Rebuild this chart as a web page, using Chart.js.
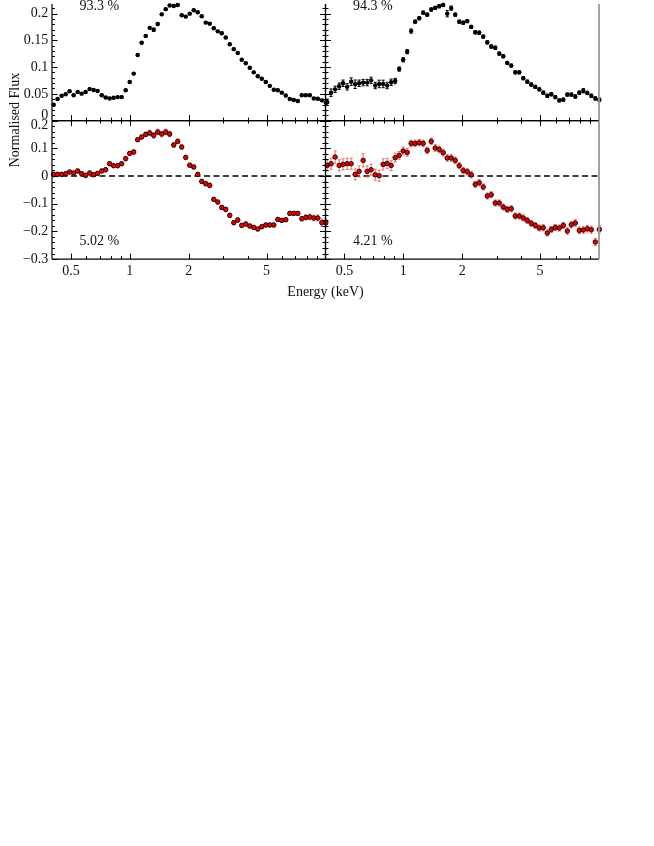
<!DOCTYPE html>
<html><head><meta charset="utf-8">
<script src="https://cdn.jsdelivr.net/npm/chart.js@4.4.1/dist/chart.umd.min.js"></script>
<style>
html,body{margin:0;padding:0;background:#fff;overflow:hidden;width:654px;height:846px}
#wrap{position:relative;width:654px;height:846px}
canvas{position:absolute;left:0;top:0}
</style></head><body>
<div id="wrap">
<canvas id="tl" width="654" height="846"></canvas>
<canvas id="tr" width="654" height="846"></canvas>
<canvas id="bl" width="654" height="846"></canvas>
<canvas id="br" width="654" height="846"></canvas>
</div>
<script>
// ---- data (energy in keV) ----
const energies = [0.408,0.427,0.448,0.470,0.492,0.516,0.541,0.567,0.594,0.623,0.653,0.684,0.718,0.752,0.788,0.826,0.866,0.908,0.952,0.998,1.046,1.096,1.149,1.205,1.263,1.324,1.388,1.455,1.525,1.598,1.676,1.756,1.841,1.930,2.023,2.121,2.223,2.330,2.442,2.560,2.684,2.813,2.949,3.091,3.240,3.397,3.561,3.732,3.912,4.101,4.299,4.506,4.724,4.952,5.190,5.441,5.703,5.978,6.267,6.569,6.886,7.218,7.566,7.931,8.314,8.715,9.135,9.576,10.04];

// top-left: normalised flux (93.3 %)
const fluxLeft = [0.0295,0.0403,0.0463,0.0493,0.0548,0.0475,0.0535,0.0504,0.0535,0.0589,0.0571,0.0553,0.0475,0.0432,0.0414,0.0426,0.0439,0.0439,0.0566,0.0721,0.0878,0.1227,0.1456,0.1583,0.1733,0.1697,0.1805,0.1986,0.2083,0.2152,0.2143,0.2161,0.1968,0.1944,0.1999,0.2062,0.2026,0.1950,0.1831,0.1812,0.1727,0.1668,0.1632,0.1552,0.1426,0.1335,0.1263,0.1137,0.1072,0.0987,0.0902,0.0829,0.0782,0.0721,0.0649,0.0576,0.0566,0.0522,0.0468,0.0403,0.0385,0.0367,0.0475,0.0475,0.0475,0.0414,0.0408,0.0378,0.0336];
const fluxLeftErr = [0.002,0.002,0.002,0.002,0.002,0.002,0.002,0.002,0.002,0.002,0.002,0.002,0.002,0.002,0.002,0.002,0.002,0.002,0.002,0.002,0.002,0.002,0.002,0.002,0.002,0.003,0.002,0.002,0.002,0.002,0.002,0.002,0.002,0.002,0.002,0.002,0.002,0.002,0.002,0.002,0.002,0.002,0.002,0.002,0.002,0.002,0.002,0.002,0.002,0.002,0.002,0.002,0.002,0.002,0.002,0.002,0.002,0.002,0.002,0.002,0.002,0.002,0.002,0.002,0.002,0.002,0.002,0.002,0.002];

// top-right: normalised flux (94.3 %)
const fluxRight = [0.0342,0.0522,0.0584,0.0643,0.0698,0.0631,0.0728,0.0679,0.0698,0.0710,0.0710,0.0752,0.0656,0.0685,0.0685,0.0656,0.0716,0.0739,0.0963,0.1137,0.1288,0.1673,0.1849,0.1914,0.2017,0.1980,0.2076,0.2107,0.2138,0.2161,0.1999,0.2102,0.1980,0.1849,0.1830,0.1859,0.1751,0.1650,0.1643,0.1570,0.1462,0.1384,0.1361,0.1252,0.1203,0.1077,0.1028,0.0902,0.0902,0.0793,0.0728,0.0674,0.0631,0.0584,0.0522,0.0463,0.0493,0.0439,0.0378,0.0390,0.0486,0.0486,0.0450,0.0522,0.0558,0.0517,0.0463,0.0414,0.0390];
const fluxRightErr = [0.006,0.007,0.006,0.006,0.006,0.006,0.007,0.008,0.006,0.006,0.006,0.006,0.006,0.007,0.007,0.006,0.006,0.005,0.004,0.004,0.004,0.004,0.003,0.003,0.003,0.003,0.003,0.003,0.003,0.003,0.006,0.004,0.003,0.003,0.003,0.003,0.003,0.003,0.003,0.003,0.003,0.003,0.003,0.003,0.003,0.003,0.003,0.003,0.003,0.003,0.003,0.003,0.003,0.003,0.003,0.003,0.003,0.003,0.003,0.003,0.003,0.003,0.003,0.003,0.004,0.003,0.003,0.003,0.003];

// bottom-left: second component (5.02 %)
const resLeft = [0.0058,0.0058,0.0058,0.0083,0.0144,0.0108,0.0181,0.0083,0.0022,0.0108,0.0047,0.0094,0.0181,0.0227,0.0444,0.0372,0.0372,0.0444,0.0625,0.0816,0.0866,0.1310,0.1408,0.1502,0.1552,0.1466,0.1588,0.1516,0.1588,0.1516,0.1119,0.1249,0.1047,0.0671,0.0390,0.0325,0.0058,-0.0195,-0.0278,-0.0339,-0.0845,-0.0939,-0.1134,-0.1206,-0.1422,-0.1686,-0.1588,-0.1783,-0.1733,-0.1805,-0.1856,-0.1913,-0.1830,-0.1769,-0.1769,-0.1769,-0.1567,-0.1603,-0.1578,-0.1350,-0.1350,-0.1350,-0.1542,-0.1495,-0.1480,-0.1516,-0.1516,-0.1686,-0.1686];
const resLeftErr = [0.008,0.008,0.007,0.007,0.007,0.007,0.007,0.008,0.008,0.007,0.007,0.007,0.007,0.008,0.007,0.007,0.007,0.007,0.007,0.007,0.008,0.007,0.007,0.008,0.01,0.01,0.01,0.01,0.01,0.01,0.008,0.008,0.007,0.007,0.007,0.007,0.007,0.007,0.008,0.008,0.007,0.007,0.007,0.007,0.007,0.007,0.008,0.007,0.007,0.007,0.007,0.007,0.007,0.007,0.007,0.007,0.007,0.007,0.007,0.007,0.007,0.007,0.008,0.009,0.01,0.01,0.011,0.013,0.013];

// bottom-right: second component (4.21 %)
const resRight = [0.0383,0.0444,0.0686,0.0383,0.0419,0.0444,0.0444,0.0058,0.0166,0.0563,0.0166,0.0227,0.0047,0.0011,0.0419,0.0455,0.0383,0.0661,0.0744,0.0903,0.0852,0.1177,0.1177,0.1202,0.1177,0.0924,0.1249,0.1011,0.0960,0.0841,0.0650,0.0650,0.0563,0.0372,0.0199,0.0155,0.0047,-0.0303,-0.0242,-0.0397,-0.0722,-0.0675,-0.0975,-0.0975,-0.1119,-0.1206,-0.1181,-0.1444,-0.1444,-0.1516,-0.1603,-0.1711,-0.1783,-0.1877,-0.1866,-0.2058,-0.1928,-0.1856,-0.1877,-0.1783,-0.1986,-0.1758,-0.1697,-0.1964,-0.1949,-0.1903,-0.1939,-0.2383,-0.1928];
const resRightErr = [0.02,0.02,0.022,0.02,0.02,0.02,0.02,0.02,0.02,0.024,0.02,0.02,0.02,0.02,0.02,0.018,0.018,0.016,0.014,0.014,0.014,0.012,0.012,0.012,0.012,0.012,0.012,0.012,0.012,0.012,0.012,0.012,0.012,0.012,0.012,0.012,0.012,0.011,0.011,0.011,0.011,0.011,0.011,0.011,0.011,0.011,0.011,0.011,0.011,0.011,0.011,0.011,0.011,0.011,0.011,0.011,0.011,0.011,0.011,0.011,0.012,0.012,0.012,0.012,0.012,0.012,0.013,0.013,0.014];

// ---- ticks & labels ----
const xMajorTicks = [0.5, 1, 2, 5];
const xMajorLabels = ['0.5', '1', '2', '5'];
const xMinorTicks = [0.6, 0.7, 0.8, 0.9, 3, 4, 6, 7, 8, 9];
const topYTicks = [0, 0.05, 0.1, 0.15, 0.2];
const topYLabels = ['0', '0.05', '0.1', '0.15', '0.2'];
const topYMinor = [0.01,0.02,0.03,0.04,0.06,0.07,0.08,0.09,0.11,0.12,0.13,0.14,0.16,0.17,0.18,0.19,0.21];
const botYTicks = [-0.3, -0.2, -0.1, 0, 0.1, 0.2];
const botYLabels = ['\u22120.3', '\u22120.2', '\u22120.1', '0', '0.1', '0.2'];
const botYMinor = [-0.28,-0.26,-0.24,-0.22,-0.18,-0.16,-0.14,-0.12,-0.08,-0.06,-0.04,-0.02,0.02,0.04,0.06,0.08,0.12,0.14,0.16,0.18];
const panelFractions = ['93.3 %', '94.3 %', '5.02 %', '4.21 %'];
const yTitle = 'Normalised Flux';
const xTitle = 'Energy (keV)';

const FONT = '14px "Liberation Serif", "Times New Roman", serif';
const TXT = '#111';
const W = 654, H = 846;
const LEFT_X0 = 52, MID_X = 325.5, RIGHT_X1 = 599, ROW_Y = 120.6, BOT_Y = 259.1;

function makePanel(id, cfg) {
  const plugin = {
    id: 'panel_' + id,
    beforeDatasetsDraw(chart) {
      const ctx = chart.ctx, xs = chart.scales.x, ys = chart.scales.y, a = chart.chartArea;
      ctx.save();
      if (cfg.zeroLine) {
        const y0 = ys.getPixelForValue(0);
        ctx.strokeStyle = '#000'; ctx.lineWidth = 1.3; ctx.setLineDash([6, 3.5]);
        ctx.beginPath(); ctx.moveTo(a.left, y0); ctx.lineTo(a.right, y0); ctx.stroke();
        ctx.setLineDash([]);
      }
      // error bars
      const vals = cfg.values, errs = cfg.errors;
      for (let i = 0; i < energies.length; i++) {
        const x = xs.getPixelForValue(energies[i]);
        const y1 = ys.getPixelForValue(vals[i] - errs[i]);
        const y2 = ys.getPixelForValue(vals[i] + errs[i]);
        const y = ys.getPixelForValue(vals[i]);
        ctx.strokeStyle = cfg.errColor; ctx.lineWidth = 1;
        ctx.beginPath();
        ctx.moveTo(x, y1); ctx.lineTo(x, y2);
        ctx.moveTo(x - 1.6, y1); ctx.lineTo(x + 1.6, y1);
        ctx.moveTo(x - 1.6, y2); ctx.lineTo(x + 1.6, y2);
        ctx.stroke();
        // energy bin width
        const xn = i < energies.length - 1 ? xs.getPixelForValue(energies[i + 1]) : x + (x - xs.getPixelForValue(energies[i - 1]));
        const hw = (xn - x) / 2;
        ctx.strokeStyle = '#000';
        ctx.beginPath(); ctx.moveTo(x - hw, y); ctx.lineTo(x + hw, y); ctx.stroke();
      }
      ctx.restore();
    },
    afterDraw(chart) {
      const ctx = chart.ctx, xs = chart.scales.x, ys = chart.scales.y, a = chart.chartArea;
      ctx.save();
      ctx.lineWidth = 1;
      ctx.strokeStyle = '#000';
      const MAJ = 5.5, MIN = 3;
      // x ticks
      const xt = (v, len) => {
        const x = Math.round(xs.getPixelForValue(v)) + 0.5;
        ctx.beginPath();
        if (cfg.bottomTicks) { ctx.moveTo(x, a.bottom); ctx.lineTo(x, a.bottom - len); }
        if (cfg.topTicks) { ctx.moveTo(x, a.top); ctx.lineTo(x, a.top + len); }
        ctx.stroke();
      };
      xMajorTicks.forEach(v => xt(v, MAJ));
      xMinorTicks.forEach(v => xt(v, MIN));
      // y ticks
      const yt = (v, len) => {
        const y = Math.round(ys.getPixelForValue(v)) + 0.5;
        ctx.beginPath();
        if (cfg.leftTicks) { ctx.moveTo(a.left, y); ctx.lineTo(a.left + len, y); }
        if (cfg.rightTicks) { ctx.moveTo(a.right, y); ctx.lineTo(a.right - len, y); }
        ctx.stroke();
      };
      cfg.yTicks.forEach(v => yt(v, MAJ));
      cfg.yMinor.forEach(v => yt(v, MIN));
      // frame
      const line = (x1, y1, x2, y2, c, w) => { ctx.strokeStyle = c; ctx.lineWidth = w || 1.2; ctx.beginPath(); ctx.moveTo(x1, y1); ctx.lineTo(x2, y2); ctx.stroke(); };
      line(a.left, a.top, a.left, a.bottom, '#000');
      line(a.left, a.bottom, a.right, a.bottom, '#000');
      if (cfg.topBorder) line(a.left, a.top, a.right, a.top, '#000');
      line(a.right, a.top, a.right, a.bottom, cfg.rightColor, cfg.rightWidth);
      // labels
      ctx.fillStyle = TXT; ctx.font = FONT;
      if (cfg.yLabels) {
        ctx.textAlign = 'right'; ctx.textBaseline = 'middle';
        cfg.yTicks.forEach((v, i) => {
          let y = ys.getPixelForValue(v);
          if (cfg.clampBottom) y = Math.min(y, a.bottom - 5);
          if (cfg.clampTop) y = Math.max(y, a.top + 5);
          ctx.fillText(cfg.yLabels[i], a.left - 3.7, y);
        });
      }
      if (cfg.xLabels) {
        ctx.textAlign = 'center'; ctx.textBaseline = 'alphabetic';
        xMajorTicks.forEach((v, i) => ctx.fillText(xMajorLabels[i], xs.getPixelForValue(v), a.bottom + 16));
      }
      ctx.textAlign = 'left'; ctx.textBaseline = 'alphabetic';
      ctx.fillText(cfg.fraction, a.left + 27.5, cfg.fracY);
      if (cfg.extra) cfg.extra(ctx);
      ctx.restore();
    }
  };
  const pointStyle = cfg.red
    ? { pointRadius: 2.3, pointBackgroundColor: '#e20000', pointBorderColor: '#000', pointBorderWidth: 0.8 }
    : { pointRadius: 2.2, pointBackgroundColor: '#000', pointBorderColor: '#000', pointBorderWidth: 0 };
  return new Chart(document.getElementById(id), {
    type: 'scatter',
    data: {
      datasets: [Object.assign({
        data: energies.map((e, i) => ({ x: e, y: cfg.values[i] })),
        showLine: false,
        clip: false
      }, pointStyle)]
    },
    options: {
      responsive: false,
      animation: false,
      devicePixelRatio: 1,
      layout: { padding: cfg.padding },
      plugins: { legend: { display: false }, tooltip: { enabled: false } },
      events: [],
      scales: {
        x: { type: 'logarithmic', min: 0.4, max: 10, display: false },
        y: { type: 'linear', min: cfg.yMin, max: cfg.yMax, display: false }
      }
    },
    plugins: [plugin]
  });
}

const TOP_MAX = 0.2179;

makePanel('tl', {
  values: fluxLeft, errors: fluxLeftErr, errColor: '#000', red: false,
  padding: { left: LEFT_X0, right: W - MID_X, top: 0, bottom: H - ROW_Y },
  yMin: 0, yMax: TOP_MAX, yTicks: topYTicks, yMinor: topYMinor, yLabels: topYLabels,
  leftTicks: true, rightTicks: true, bottomTicks: true, topTicks: false, topBorder: false,
  rightColor: '#000', clampBottom: true, fraction: panelFractions[0], fracY: 10,
  extra(ctx) {
    ctx.save();
    ctx.translate(18.5, 120);
    ctx.rotate(-Math.PI / 2);
    ctx.textAlign = 'center'; ctx.textBaseline = 'alphabetic';
    ctx.fillText(yTitle, 0, 0);
    ctx.restore();
  }
});
makePanel('tr', {
  values: fluxRight, errors: fluxRightErr, errColor: '#000', red: false,
  padding: { left: MID_X, right: W - RIGHT_X1, top: 0, bottom: H - ROW_Y },
  yMin: 0, yMax: TOP_MAX, yTicks: topYTicks, yMinor: topYMinor, yLabels: null,
  leftTicks: true, rightTicks: false, bottomTicks: true, topTicks: false, topBorder: false,
  rightColor: '#9a9a9a', rightWidth: 1.8, fraction: panelFractions[1], fracY: 10
});
makePanel('bl', {
  values: resLeft, errors: resLeftErr, errColor: 'rgba(235,70,70,0.75)', red: true, zeroLine: true,
  padding: { left: LEFT_X0, right: W - MID_X, top: ROW_Y, bottom: H - BOT_Y },
  yMin: -0.3, yMax: 0.2, yTicks: botYTicks, yMinor: botYMinor, yLabels: botYLabels,
  leftTicks: true, rightTicks: true, bottomTicks: true, topTicks: true, topBorder: true,
  rightColor: '#000', clampTop: true, xLabels: true, fraction: panelFractions[2], fracY: 244.5,
  extra(ctx) {
    ctx.textAlign = 'center'; ctx.textBaseline = 'alphabetic';
    ctx.fillText(xTitle, MID_X, 295.5);
  }
});
makePanel('br', {
  values: resRight, errors: resRightErr, errColor: 'rgba(235,70,70,0.75)', red: true, zeroLine: true,
  padding: { left: MID_X, right: W - RIGHT_X1, top: ROW_Y, bottom: H - BOT_Y },
  yMin: -0.3, yMax: 0.2, yTicks: botYTicks, yMinor: botYMinor, yLabels: null,
  leftTicks: true, rightTicks: false, bottomTicks: true, topTicks: true, topBorder: true,
  rightColor: '#9a9a9a', rightWidth: 1.8, xLabels: true, fraction: panelFractions[3], fracY: 244.5
});
</script>
</body></html>
